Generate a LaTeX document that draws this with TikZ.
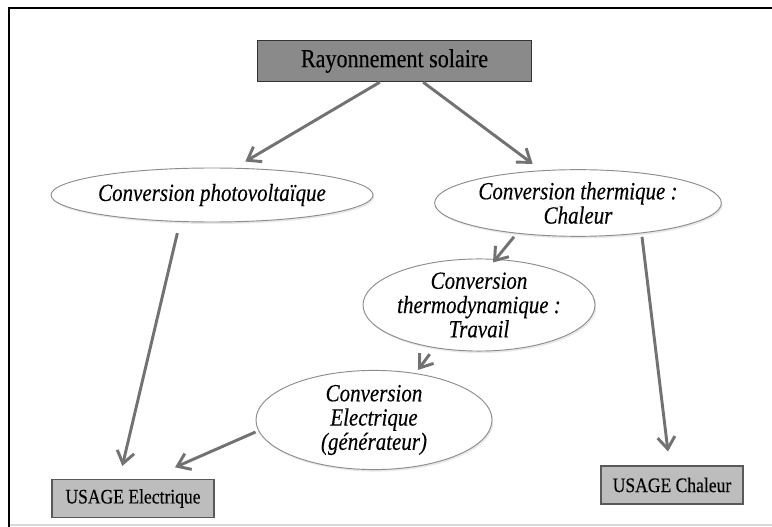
\documentclass[tikz,border=0pt]{standalone}
\usepackage{fontspec}
\setmainfont[FakeStretch=0.85, FakeBold=0.25]{Liberation Serif}
\usepackage{xcolor}
\usepackage{tikz}
\usetikzlibrary{shapes, arrows.meta, shadows}

\definecolor{gris}{HTML}{8A8A8A}
\definecolor{grisclair}{HTML}{BDBDBD}
\definecolor{fleche}{HTML}{727272}

\tikzset{
  source/.style={draw=black!80, line width=0.8pt, fill=gris, rectangle, inner sep=0pt,
    font=\fontsize{19.5}{22}\selectfont},
  conversion/.style={ellipse, draw=black!45, line width=0.7pt, fill=white, inner sep=0pt,
    align=center, font=\fontsize{18.5}{18.2}\selectfont\itshape,
    drop shadow={opacity=0.18, shadow xshift=1pt, shadow yshift=-1.5pt}},
  usage/.style={draw=black!65, line width=0.8pt, fill=grisclair, rectangle, inner sep=0pt,
    font=\fontsize{15.5}{17}\selectfont},
  fl/.style={draw=fleche, line width=2.2pt, -{Straight Barb[length=9pt, width=13pt]}}
}

\begin{document}
\begin{tikzpicture}[x=0.75pt, y=-0.75pt]
        \useasboundingbox (0,0) rectangle (772,527);
        % Cadre
        \draw[black, line width=2.2pt] (772,8) -- (9,8) -- (9,527);
        \draw[black!15, line width=1.5pt] (10,525) -- (772,525);

        % Noeuds du schéma
        \node[source, minimum width=206pt, minimum height=31pt] (sun) at (394.5,61) {Rayonnement solaire};
        \node[conversion, minimum width=240pt, minimum height=40.5pt] (pv) at (212,195) {Conversion photovoltaïque};
        \node[conversion, minimum width=215pt, minimum height=50pt] (therm) at (578,203) {Conversion thermique :\\ Chaleur};
        \node[conversion, minimum width=174pt, minimum height=63pt] (thdyn) at (479,305) {Conversion\\ thermodynamique :\\ Travail};
        \node[conversion, minimum width=177pt, minimum height=71pt] (elec) at (374,420) {Conversion\\ Electrique\\ (générateur)};
        \node[usage, minimum width=121.5pt, minimum height=28pt] (usel) at (133,498.5) {USAGE Electrique};
        \node[usage, minimum width=106.5pt, minimum height=28.5pt] (usch) at (672,485) {USAGE Chaleur};

        % Flèches
        \draw[fl] ([xshift=-11pt]sun.south) -- ([xshift=25pt, yshift=4.5pt]pv.north);
        \draw[fl] ([xshift=21.5pt]sun.south) -- ([xshift=-34pt, yshift=4pt]therm.north);
        \draw[fl] ([xshift=-48pt]therm.south) -- ([xshift=10.5pt, yshift=-3pt]thdyn.north);
        \draw[fl] ([xshift=-37pt, yshift=-2pt]thdyn.south) -- ([xshift=33pt]elec.north);
        \draw[fl] ([xshift=-26pt, yshift=-8pt]pv.south) -- ([xshift=-8pt, yshift=10pt]usel.north);
        \draw[fl] ([yshift=-9pt]elec.west) -- ([xshift=31.5pt, yshift=9pt]usel.north);
        \draw[fl] ([xshift=48pt]therm.south) -- ([xshift=-3pt, yshift=10.5pt]usch.north);
\end{tikzpicture}
\end{document}
